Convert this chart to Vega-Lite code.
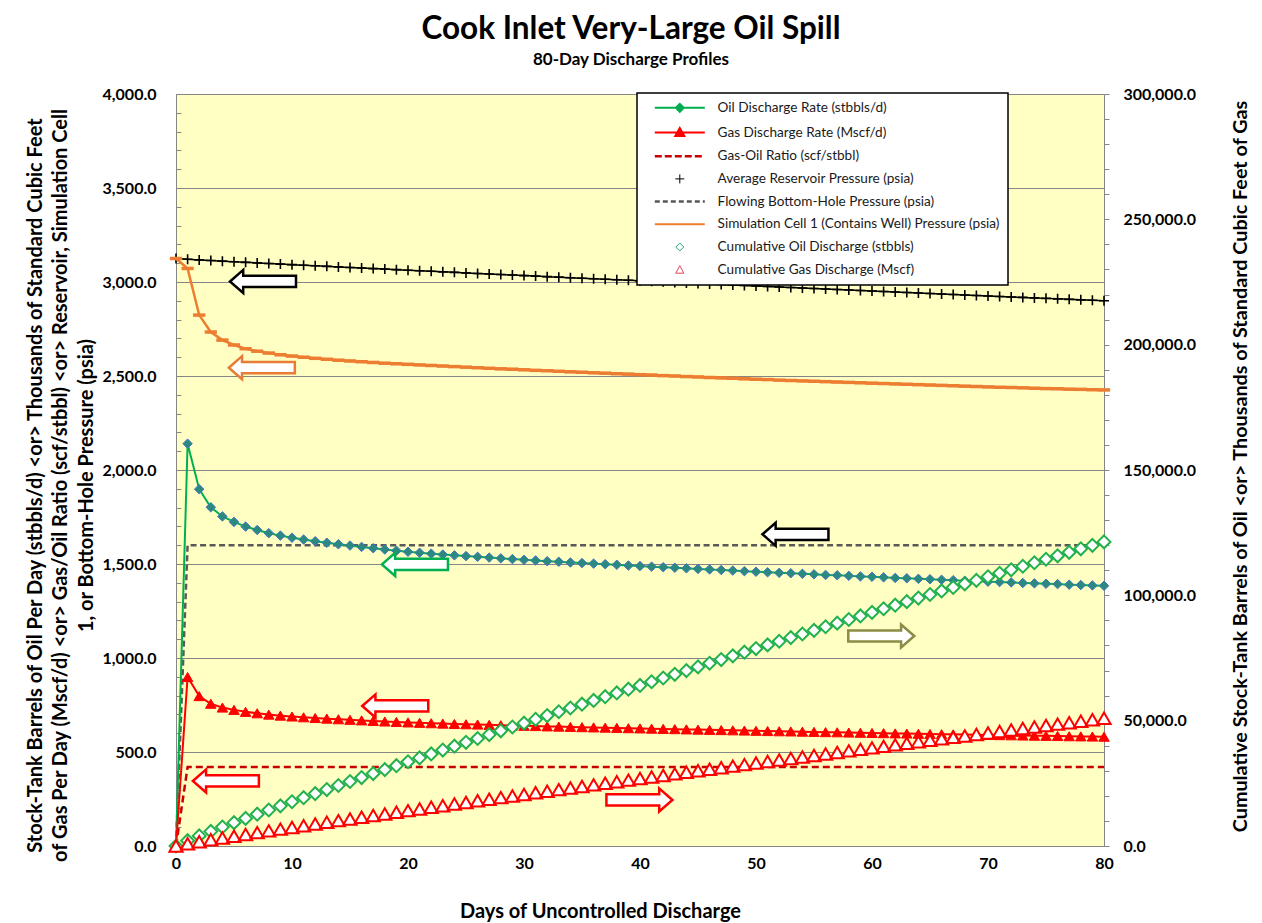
{
  "$schema": "https://vega.github.io/schema/vega-lite/v6.json",
  "width": 928,
  "height": 752,
  "autosize": {"type": "none"},
  "padding": {"left": 176, "top": 94, "right": 158, "bottom": 77},
  "background": "white",
  "config": {
    "font": "Lato",
    "view": {"fill": "#ffffc4", "stroke": "#868686", "strokeWidth": 1},
    "axis": {"labelFont": "Lato", "labelFontWeight": "bold", "labelFontSize": 16, "labelColor": "#000000", "titleFont": "Lato", "titleFontWeight": "bold", "titleColor": "#000000", "domain": false, "labelFlush": false, "labelOverlap": false, "tickColor": "#868686"}
  },
  "title": {
    "text": "Cook Inlet Very-Large Oil Spill",
    "subtitle": "80-Day Discharge Profiles",
    "anchor": "middle",
    "font": "Lato", "fontSize": 31.5, "fontWeight": "bold", "color": "#000000",
    "subtitleFont": "Lato", "subtitleFontSize": 17, "subtitleFontWeight": "bold", "subtitleColor": "#000000",
    "subtitlePadding": 7, "offset": 18, "dx": -9
  },
  "data": {"values": [
    {"d":0,"oil":0,"gas":0,"gor":0,"pavg":3125,"fbhp":0,"pcell":3125,"cumoil":0,"cumgas":0},
    {"d":1,"oil":2140,"gas":898.8,"gor":420,"pavg":3121.0,"fbhp":1600,"pcell":3072,"cumoil":2140,"cumgas":898.8},
    {"d":2,"oil":1898,"gas":797.2,"gor":420,"pavg":3117.5,"fbhp":1600,"pcell":2824,"cumoil":4038,"cumgas":1696},
    {"d":3,"oil":1802,"gas":756.8,"gor":420,"pavg":3114.2,"fbhp":1600,"pcell":2734,"cumoil":5840,"cumgas":2453},
    {"d":4,"oil":1753,"gas":736.3,"gor":420,"pavg":3110.9,"fbhp":1600,"pcell":2691,"cumoil":7593,"cumgas":3189},
    {"d":5,"oil":1724,"gas":724.1,"gor":420,"pavg":3107.7,"fbhp":1600,"pcell":2665,"cumoil":9317,"cumgas":3913},
    {"d":6,"oil":1699,"gas":713.6,"gor":420,"pavg":3104.6,"fbhp":1600,"pcell":2645,"cumoil":11016,"cumgas":4627},
    {"d":7,"oil":1681,"gas":706.0,"gor":420,"pavg":3101.5,"fbhp":1600,"pcell":2632,"cumoil":12697,"cumgas":5333},
    {"d":8,"oil":1664,"gas":698.9,"gor":420,"pavg":3098.4,"fbhp":1600,"pcell":2622,"cumoil":14361,"cumgas":6032},
    {"d":9,"oil":1651,"gas":693.4,"gor":420,"pavg":3095.3,"fbhp":1600,"pcell":2613,"cumoil":16012,"cumgas":6725},
    {"d":10,"oil":1640,"gas":688.8,"gor":420,"pavg":3092.3,"fbhp":1600,"pcell":2606,"cumoil":17652,"cumgas":7414},
    {"d":11,"oil":1630,"gas":684.6,"gor":420,"pavg":3089.2,"fbhp":1600,"pcell":2600,"cumoil":19282,"cumgas":8098},
    {"d":12,"oil":1621,"gas":680.8,"gor":420,"pavg":3086.2,"fbhp":1600,"pcell":2594,"cumoil":20903,"cumgas":8779},
    {"d":13,"oil":1613,"gas":677.5,"gor":420,"pavg":3083.2,"fbhp":1600,"pcell":2589,"cumoil":22516,"cumgas":9457},
    {"d":14,"oil":1605,"gas":674.1,"gor":420,"pavg":3080.3,"fbhp":1600,"pcell":2584,"cumoil":24121,"cumgas":10131},
    {"d":15,"oil":1598,"gas":671.2,"gor":420,"pavg":3077.3,"fbhp":1600,"pcell":2580,"cumoil":25719,"cumgas":10802},
    {"d":16,"oil":1591,"gas":668.2,"gor":420,"pavg":3074.4,"fbhp":1600,"pcell":2576,"cumoil":27310,"cumgas":11470},
    {"d":17,"oil":1584,"gas":665.3,"gor":420,"pavg":3071.4,"fbhp":1600,"pcell":2572,"cumoil":28894,"cumgas":12135},
    {"d":18,"oil":1577,"gas":662.3,"gor":420,"pavg":3068.5,"fbhp":1600,"pcell":2568,"cumoil":30471,"cumgas":12798},
    {"d":19,"oil":1571,"gas":659.8,"gor":420,"pavg":3065.6,"fbhp":1600,"pcell":2565,"cumoil":32042,"cumgas":13458},
    {"d":20,"oil":1565,"gas":657.3,"gor":420,"pavg":3062.7,"fbhp":1600,"pcell":2562,"cumoil":33607,"cumgas":14115},
    {"d":21,"oil":1560,"gas":655.2,"gor":420,"pavg":3059.8,"fbhp":1600,"pcell":2559,"cumoil":35167,"cumgas":14770},
    {"d":22,"oil":1555,"gas":653.1,"gor":420,"pavg":3056.9,"fbhp":1600,"pcell":2556,"cumoil":36722,"cumgas":15423},
    {"d":23,"oil":1550,"gas":651.0,"gor":420,"pavg":3054.0,"fbhp":1600,"pcell":2553,"cumoil":38272,"cumgas":16074},
    {"d":24,"oil":1546,"gas":649.3,"gor":420,"pavg":3051.2,"fbhp":1600,"pcell":2550,"cumoil":39818,"cumgas":16724},
    {"d":25,"oil":1542,"gas":647.6,"gor":420,"pavg":3048.3,"fbhp":1600,"pcell":2547,"cumoil":41360,"cumgas":17371},
    {"d":26,"oil":1538,"gas":646.0,"gor":420,"pavg":3045.4,"fbhp":1600,"pcell":2544,"cumoil":42898,"cumgas":18017},
    {"d":27,"oil":1534,"gas":644.3,"gor":420,"pavg":3042.6,"fbhp":1600,"pcell":2541,"cumoil":44432,"cumgas":18661},
    {"d":28,"oil":1530,"gas":642.6,"gor":420,"pavg":3039.8,"fbhp":1600,"pcell":2538,"cumoil":45962,"cumgas":19304},
    {"d":29,"oil":1526,"gas":640.9,"gor":420,"pavg":3036.9,"fbhp":1600,"pcell":2536,"cumoil":47488,"cumgas":19945},
    {"d":30,"oil":1522,"gas":639.2,"gor":420,"pavg":3034.1,"fbhp":1600,"pcell":2533,"cumoil":49010,"cumgas":20584},
    {"d":31,"oil":1519,"gas":638.0,"gor":420,"pavg":3031.3,"fbhp":1600,"pcell":2530,"cumoil":50529,"cumgas":21222},
    {"d":32,"oil":1515,"gas":636.3,"gor":420,"pavg":3028.5,"fbhp":1600,"pcell":2528,"cumoil":52044,"cumgas":21858},
    {"d":33,"oil":1512,"gas":635.0,"gor":420,"pavg":3025.7,"fbhp":1600,"pcell":2525,"cumoil":53556,"cumgas":22494},
    {"d":34,"oil":1508,"gas":633.4,"gor":420,"pavg":3022.9,"fbhp":1600,"pcell":2522,"cumoil":55064,"cumgas":23127},
    {"d":35,"oil":1505,"gas":632.1,"gor":420,"pavg":3020.1,"fbhp":1600,"pcell":2520,"cumoil":56569,"cumgas":23759},
    {"d":36,"oil":1502,"gas":630.8,"gor":420,"pavg":3017.3,"fbhp":1600,"pcell":2517,"cumoil":58071,"cumgas":24390},
    {"d":37,"oil":1499,"gas":629.6,"gor":420,"pavg":3014.5,"fbhp":1600,"pcell":2515,"cumoil":59570,"cumgas":25019},
    {"d":38,"oil":1496,"gas":628.3,"gor":420,"pavg":3011.8,"fbhp":1600,"pcell":2512,"cumoil":61066,"cumgas":25648},
    {"d":39,"oil":1492,"gas":626.6,"gor":420,"pavg":3009.0,"fbhp":1600,"pcell":2510,"cumoil":62558,"cumgas":26274},
    {"d":40,"oil":1489,"gas":625.4,"gor":420,"pavg":3006.2,"fbhp":1600,"pcell":2507,"cumoil":64047,"cumgas":26900},
    {"d":41,"oil":1486,"gas":624.1,"gor":420,"pavg":3003.5,"fbhp":1600,"pcell":2505,"cumoil":65533,"cumgas":27524},
    {"d":42,"oil":1483,"gas":622.9,"gor":420,"pavg":3000.7,"fbhp":1600,"pcell":2502,"cumoil":67016,"cumgas":28147},
    {"d":43,"oil":1480,"gas":621.6,"gor":420,"pavg":2998.0,"fbhp":1600,"pcell":2500,"cumoil":68496,"cumgas":28768},
    {"d":44,"oil":1477,"gas":620.3,"gor":420,"pavg":2995.2,"fbhp":1600,"pcell":2497,"cumoil":69973,"cumgas":29389},
    {"d":45,"oil":1474,"gas":619.1,"gor":420,"pavg":2992.5,"fbhp":1600,"pcell":2495,"cumoil":71447,"cumgas":30008},
    {"d":46,"oil":1471,"gas":617.8,"gor":420,"pavg":2989.8,"fbhp":1600,"pcell":2492,"cumoil":72918,"cumgas":30626},
    {"d":47,"oil":1468,"gas":616.6,"gor":420,"pavg":2987.0,"fbhp":1600,"pcell":2490,"cumoil":74386,"cumgas":31242},
    {"d":48,"oil":1465,"gas":615.3,"gor":420,"pavg":2984.3,"fbhp":1600,"pcell":2488,"cumoil":75851,"cumgas":31857},
    {"d":49,"oil":1462,"gas":614.0,"gor":420,"pavg":2981.6,"fbhp":1600,"pcell":2485,"cumoil":77313,"cumgas":32471},
    {"d":50,"oil":1459,"gas":612.8,"gor":420,"pavg":2978.9,"fbhp":1600,"pcell":2483,"cumoil":78772,"cumgas":33084},
    {"d":51,"oil":1456,"gas":611.5,"gor":420,"pavg":2976.2,"fbhp":1600,"pcell":2481,"cumoil":80228,"cumgas":33696},
    {"d":52,"oil":1453,"gas":610.3,"gor":420,"pavg":2973.5,"fbhp":1600,"pcell":2478,"cumoil":81681,"cumgas":34306},
    {"d":53,"oil":1451,"gas":609.4,"gor":420,"pavg":2970.8,"fbhp":1600,"pcell":2476,"cumoil":83132,"cumgas":34915},
    {"d":54,"oil":1448,"gas":608.2,"gor":420,"pavg":2968.1,"fbhp":1600,"pcell":2474,"cumoil":84580,"cumgas":35524},
    {"d":55,"oil":1445,"gas":606.9,"gor":420,"pavg":2965.5,"fbhp":1600,"pcell":2472,"cumoil":86025,"cumgas":36131},
    {"d":56,"oil":1442,"gas":605.6,"gor":420,"pavg":2962.8,"fbhp":1600,"pcell":2470,"cumoil":87467,"cumgas":36736},
    {"d":57,"oil":1440,"gas":604.8,"gor":420,"pavg":2960.1,"fbhp":1600,"pcell":2468,"cumoil":88907,"cumgas":37341},
    {"d":58,"oil":1437,"gas":603.5,"gor":420,"pavg":2957.4,"fbhp":1600,"pcell":2466,"cumoil":90344,"cumgas":37944},
    {"d":59,"oil":1434,"gas":602.3,"gor":420,"pavg":2954.8,"fbhp":1600,"pcell":2464,"cumoil":91778,"cumgas":38547},
    {"d":60,"oil":1432,"gas":601.4,"gor":420,"pavg":2952.1,"fbhp":1600,"pcell":2462,"cumoil":93210,"cumgas":39148},
    {"d":61,"oil":1429,"gas":600.2,"gor":420,"pavg":2949.5,"fbhp":1600,"pcell":2460,"cumoil":94639,"cumgas":39748},
    {"d":62,"oil":1426,"gas":598.9,"gor":420,"pavg":2946.8,"fbhp":1600,"pcell":2458,"cumoil":96065,"cumgas":40347},
    {"d":63,"oil":1424,"gas":598.1,"gor":420,"pavg":2944.2,"fbhp":1600,"pcell":2456,"cumoil":97489,"cumgas":40945},
    {"d":64,"oil":1421,"gas":596.8,"gor":420,"pavg":2941.6,"fbhp":1600,"pcell":2454,"cumoil":98910,"cumgas":41542},
    {"d":65,"oil":1419,"gas":596.0,"gor":420,"pavg":2938.9,"fbhp":1600,"pcell":2452,"cumoil":100329,"cumgas":42138},
    {"d":66,"oil":1416,"gas":594.7,"gor":420,"pavg":2936.3,"fbhp":1600,"pcell":2450,"cumoil":101745,"cumgas":42733},
    {"d":67,"oil":1414,"gas":593.9,"gor":420,"pavg":2933.7,"fbhp":1600,"pcell":2448,"cumoil":103159,"cumgas":43327},
    {"d":68,"oil":1411,"gas":592.6,"gor":420,"pavg":2931.1,"fbhp":1600,"pcell":2446,"cumoil":104570,"cumgas":43919},
    {"d":69,"oil":1409,"gas":591.8,"gor":420,"pavg":2928.5,"fbhp":1600,"pcell":2444,"cumoil":105979,"cumgas":44511},
    {"d":70,"oil":1406,"gas":590.5,"gor":420,"pavg":2925.8,"fbhp":1600,"pcell":2442,"cumoil":107385,"cumgas":45102},
    {"d":71,"oil":1404,"gas":589.7,"gor":420,"pavg":2923.2,"fbhp":1600,"pcell":2440,"cumoil":108789,"cumgas":45691},
    {"d":72,"oil":1402,"gas":588.8,"gor":420,"pavg":2920.6,"fbhp":1600,"pcell":2439,"cumoil":110191,"cumgas":46280},
    {"d":73,"oil":1399,"gas":587.6,"gor":420,"pavg":2918.0,"fbhp":1600,"pcell":2437,"cumoil":111590,"cumgas":46868},
    {"d":74,"oil":1397,"gas":586.7,"gor":420,"pavg":2915.5,"fbhp":1600,"pcell":2435,"cumoil":112987,"cumgas":47455},
    {"d":75,"oil":1395,"gas":585.9,"gor":420,"pavg":2912.9,"fbhp":1600,"pcell":2433,"cumoil":114382,"cumgas":48040},
    {"d":76,"oil":1393,"gas":585.1,"gor":420,"pavg":2910.3,"fbhp":1600,"pcell":2432,"cumoil":115775,"cumgas":48626},
    {"d":77,"oil":1390,"gas":583.8,"gor":420,"pavg":2907.7,"fbhp":1600,"pcell":2430,"cumoil":117165,"cumgas":49209},
    {"d":78,"oil":1388,"gas":583.0,"gor":420,"pavg":2905.1,"fbhp":1600,"pcell":2429,"cumoil":118553,"cumgas":49792},
    {"d":79,"oil":1386,"gas":582.1,"gor":420,"pavg":2902.6,"fbhp":1600,"pcell":2427,"cumoil":119939,"cumgas":50374},
    {"d":80,"oil":1384,"gas":581.3,"gor":420,"pavg":2900.0,"fbhp":1600,"pcell":2426,"cumoil":121323,"cumgas":50956}
  ]},
  "encoding": {
    "x": {"field": "d", "type": "quantitative", "scale": {"domain": [0, 80], "nice": false, "zero": false},
      "axis": {"values": [0,10,20,30,40,50,60,70,80], "ticks": false, "grid": false, "labelPadding": 9, "format": "d",
        "title": "Days of Uncontrolled Discharge", "titleFontSize": 20, "titleX": 424, "titleY": 65, "titleBaseline": "middle"}}
  },
  "layer": [
    {
      "encoding": {
        "y": {"field": "value", "type": "quantitative", "scale": {"domain": [0, 4000], "nice": false},
          "axis": {"values": [0,100,200,300,400,500,600,700,800,900,1000,1100,1200,1300,1400,1500,1600,1700,1800,1900,2000,2100,2200,2300,2400,2500,2600,2700,2800,2900,3000,3100,3200,3300,3400,3500,3600,3700,3800,3900,4000],
            "format": ",.1f", "labelExpr": "datum.value % 500 === 0 ? datum.label : ''",
            "tickSize": -5, "labelPadding": 25,
            "grid": true, "gridColor": "#868686", "gridOpacity": {"condition": {"test": "datum.value % 500 === 0", "value": 1}, "value": 0},
            "title": ["Stock-Tank Barrels of Oil Per Day (stbbls/d)  <or> Thousands of Standard Cubic Feet", "of Gas Per Day (Mscf/d) <or> Gas/Oil Ratio (scf/stbbl) <or> Reservoir, Simulation Cell", "1, or Bottom-Hole Pressure (psia)"],
            "titleFontSize": 20, "titleLineHeight": 25.5, "titleX": -141, "titleY": 391, "titleBaseline": "middle", "titleAngle": 270}}
      },
      "layer": [
        {"transform": [{"fold": ["fbhp"], "as": ["key", "value"]}],
         "mark": {"type": "line", "strokeDash": [6, 3.5], "strokeWidth": 2.5},
         "encoding": {"color": {"field": "key", "type": "nominal",
           "scale": {"domain": ["oil","gas","gor","pavg","fbhp","pcell","cumoil","cumgas"], "range": ["#00b050","#ff0000","#c80000","#000000","#595959","#ed7d31","#2ea882","#e0405a"]},
           "legend": {"title": null, "orient": "none", "legendX": 461, "legendY": -1,
             "fillColor": "#ffffff", "strokeColor": "#000000", "padding": 8,
             "labelFont": "Lato", "labelFontSize": 13.6, "labelColor": "#1a1a1a", "labelLimit": 500,
             "symbolSize": 100, "symbolOffset": 8, "labelOffset": 51, "rowPadding": 7.7,
             "labelExpr": "datum.value === 'oil' ? 'Oil Discharge Rate (stbbls/d)' : datum.value === 'gas' ? 'Gas Discharge Rate (Mscf/d)' : datum.value === 'gor' ? 'Gas-Oil Ratio (scf/stbbl)' : datum.value === 'pavg' ? 'Average Reservoir Pressure (psia)' : datum.value === 'fbhp' ? 'Flowing Bottom-Hole Pressure (psia)' : datum.value === 'pcell' ? 'Simulation Cell 1 (Contains Well) Pressure (psia)' : datum.value === 'cumoil' ? 'Cumulative Oil Discharge (stbbls)' : 'Cumulative Gas Discharge (Mscf)'",
             "encode": {
               "legend": {"update": {"strokeWidth": {"value": 1.5}}},
               "symbols": {"update": {
                 "size": {"value": 100},
                 "opacity": {"value": 1},
                 "shape": {"signal": "datum.value === 'oil' ? 'M-1,0H9M3.2,0L4,-0.8L4.8,0L4,0.8Z' : datum.value === 'gas' ? 'M-1,0H9M3.1,0.7L4,-0.9L4.9,0.7Z' : datum.value === 'pavg' ? 'M3.1,0H4.9M4,-0.9V0.9' : datum.value === 'cumoil' ? 'M3.2,0L4,-0.8L4.8,0L4,0.8Z' : datum.value === 'cumgas' ? 'M3.2,0.7L4,-0.8L4.8,0.7Z' : 'M-1,0H9'"},
                 "stroke": {"signal": "datum.value === 'oil' ? '#00b050' : datum.value === 'gas' ? '#ff0000' : datum.value === 'gor' ? '#c80000' : datum.value === 'pavg' ? '#000000' : datum.value === 'fbhp' ? '#595959' : datum.value === 'pcell' ? '#ed7d31' : datum.value === 'cumoil' ? '#2ea882' : '#e0405a'"},
                 "fill": {"signal": "datum.value === 'oil' ? '#2b8a7e' : datum.value === 'gas' ? '#ff0000' : (datum.value === 'cumoil' || datum.value === 'cumgas') ? '#ffffff' : 'transparent'"},
                 "strokeWidth": {"signal": "(datum.value === 'gor' || datum.value === 'fbhp') ? 2.5 : (datum.value === 'pavg' || datum.value === 'cumoil' || datum.value === 'cumgas') ? 1 : 2"},
                 "strokeDash": {"signal": "datum.value === 'gor' ? [7, 3] : datum.value === 'fbhp' ? [5, 3] : []"}
               }}
             }}}}},
        {"transform": [{"fold": ["gor"], "as": ["key", "value"]}],
         "mark": {"type": "line", "strokeDash": [7, 4], "strokeWidth": 2.5},
         "encoding": {"color": {"field": "key", "type": "nominal"}}},
        {"transform": [{"fold": ["pavg"], "as": ["key", "value"]}],
         "mark": {"type": "line", "strokeWidth": 1.5},
         "encoding": {"color": {"field": "key", "type": "nominal"}}},
        {"transform": [{"fold": ["pavg"], "as": ["key", "value"]}],
         "mark": {"type": "point", "shape": "M-1,0H1M0,-1V1", "size": 100, "filled": false, "stroke": "#000000", "strokeWidth": 1.6, "opacity": 1}},
        {"transform": [{"fold": ["pcell"], "as": ["key", "value"]}],
         "mark": {"type": "line", "strokeWidth": 2.5},
         "encoding": {"color": {"field": "key", "type": "nominal"}}},
        {"transform": [{"fold": ["pcell"], "as": ["key", "value"]}],
         "mark": {"type": "point", "shape": "stroke", "size": 150, "filled": false, "stroke": "#ed7d31", "strokeWidth": 3.5, "opacity": 1}},
        {"transform": [{"fold": ["oil"], "as": ["key", "value"]}],
         "mark": {"type": "line", "strokeWidth": 2},
         "encoding": {"color": {"field": "key", "type": "nominal"}}},
        {"transform": [{"fold": ["oil"], "as": ["key", "value"]}],
         "mark": {"type": "point", "shape": "diamond", "size": 90, "filled": true, "fill": "#2b8a7e", "stroke": "#4472c4", "strokeWidth": 1, "opacity": 1}},
        {"transform": [{"fold": ["gas"], "as": ["key", "value"]}],
         "mark": {"type": "line", "strokeWidth": 2},
         "encoding": {"color": {"field": "key", "type": "nominal"}}},
        {"transform": [{"fold": ["gas"], "as": ["key", "value"]}],
         "mark": {"type": "point", "shape": "triangle-up", "size": 110, "filled": true, "fill": "#ff0000", "stroke": "#ff0000", "strokeWidth": 1, "opacity": 1}},
        {"data": {"values": [
          {"d": 7.5, "value": 3003, "dir": "L", "c": "k"},
          {"d": 7.4, "value": 2544, "dir": "L", "c": "o"},
          {"d": 53.4, "value": 1658, "dir": "L", "c": "k"},
          {"d": 20.6, "value": 1498, "dir": "L", "c": "g"},
          {"d": 60.8, "value": 1117, "dir": "R", "c": "v"},
          {"d": 18.9, "value": 745, "dir": "L", "c": "r"},
          {"d": 4.3, "value": 346, "dir": "L", "c": "r"},
          {"d": 39.95, "value": 245, "dir": "R", "c": "r"}
         ]},
         "mark": {"type": "point", "filled": true, "fill": "#ffffff", "strokeWidth": 2.5, "size": 4356, "opacity": 1},
         "encoding": {
           "shape": {"field": "dir", "type": "nominal", "scale": {"domain": ["L", "R"], "range": ["M-1,0L-0.6,-0.35L-0.6,-0.17L1,-0.17L1,0.17L-0.6,0.17L-0.6,0.35Z", "M1,0L0.6,-0.35L0.6,-0.17L-1,-0.17L-1,0.17L0.6,0.17L0.6,0.35Z"]}, "legend": null},
           "stroke": {"field": "c", "type": "nominal", "scale": {"domain": ["k", "o", "g", "v", "r"], "range": ["#000000", "#e87b35", "#00b050", "#8c8c46", "#ff0000"]}, "legend": null}
         }}
      ]
    },
    {
      "encoding": {
        "y": {"field": "value", "type": "quantitative", "scale": {"domain": [0, 300000], "nice": false},
          "axis": {"orient": "right", "values": [0,10000,20000,30000,40000,50000,60000,70000,80000,90000,100000,110000,120000,130000,140000,150000,160000,170000,180000,190000,200000,210000,220000,230000,240000,250000,260000,270000,280000,290000,300000],
            "format": ",.1f", "labelExpr": "datum.value % 50000 === 0 ? datum.label : ''",
            "tickSize": 5, "labelPadding": 14, "grid": false,
            "title": "Cumulative Stock-Tank Barrels of Oil  <or> Thousands of Standard Cubic Feet of Gas",
            "titleFontSize": 19.8, "titleX": 136, "titleY": 372, "titleBaseline": "middle", "titleAngle": 270}}
      },
      "layer": [
        {"transform": [{"fold": ["cumoil"], "as": ["key", "value"]}],
         "mark": {"type": "point", "shape": "diamond", "size": 165, "filled": true, "fill": "#ffffff", "stroke": "#22b14c", "strokeWidth": 2, "opacity": 1}},
        {"transform": [{"fold": ["cumgas"], "as": ["key", "value"]}],
         "mark": {"type": "point", "shape": "triangle-up", "size": 175, "filled": true, "fill": "#ffffff", "stroke": "#ff0000", "strokeWidth": 2, "opacity": 1}}
      ]
    }
  ],
  "resolve": {"scale": {"y": "independent"}}
}
